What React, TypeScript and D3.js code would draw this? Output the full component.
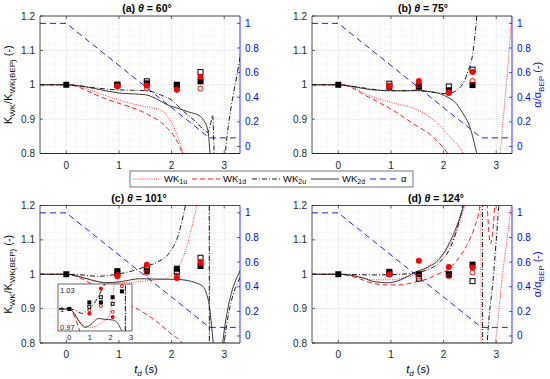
import React from "react";
import * as d3 from "d3";

type Pt = [number, number] | null;

// shared values
const markerT = [0.97, 1.53, 2.1, 2.55];
const alphaT = [-0.5, 0, 2.72, 3.3];
const alphaV = [1, 1, 0.07, 0.07];

const xTicks = [0, 1, 2, 3];
const yTicks = [0.8, 0.9, 1, 1.1, 1.2];
const yTickLabels = ["0.8", "0.9", "1", "1.1", "1.2"];
const rTicks = [0, 0.2, 0.4, 0.6, 0.8, 1];
const rTickLabels = ["0", "0.2", "0.4", "0.6", "0.8", "1"];
const insetXTicks = [0, 1, 2, 3];
const insetYTicks = [0.97, 1, 1.03];
const insetYTickLabels = ["0.97", "1", "1.03"];

// (a) theta = 60
const wk1uA: Pt[] = [[-0.5, 1], [0, 1], [0.2, 0.997], [0.5, 0.982], [0.8, 0.966], [1.0, 0.956], [1.27, 0.944], [1.55, 0.935], [1.8, 0.925], [1.95, 0.903], [2.05, 0.875], [2.15, 0.835], [2.25, 0.78]];
const wk1dA: Pt[] = [[-0.5, 1], [0, 1], [0.2, 0.995], [0.5, 0.975], [0.82, 0.955], [1.1, 0.941], [1.52, 0.916], [1.9, 0.877], [2.05, 0.85], [2.18, 0.81], [2.24, 0.78]];
const wk2uA: Pt[] = [[-0.5, 1], [0, 1], [0.25, 0.997], [0.6, 0.99], [1.0, 0.985], [1.3, 0.984], [1.55, 0.982], [1.8, 0.97], [2.0, 0.955], [2.21, 0.925], [2.47, 0.891], [2.62, 0.868], [2.69, 0.862], [2.74, 0.885], [2.78, 0.911], [2.81, 0.8], [2.83, 0.72], null, [2.99, 0.75], [3.02, 0.8], [3.29, 1.071], [3.32, 1.1]];
const wk2dA: Pt[] = [[-0.5, 1], [0, 1], [0.25, 0.997], [0.6, 0.987], [1.0, 0.976], [1.3, 0.973], [1.5, 0.971], [1.7, 0.96], [1.9, 0.943], [2.15, 0.93], [2.34, 0.92], [2.5, 0.912], [2.59, 0.901], [2.69, 0.867], [2.73, 0.8], [2.75, 0.75]];
const sqFilledA = [1.0, 1.004, 0.999, 1.01];
const sqOpenA = [1.0, 1.01, 1.0, 1.037];
const cFilledA = [0.996, 0.998, 0.986, 1.023];
const cOpenA = [0.995, 0.99, 0.985, 0.989];

// (b) theta = 75
const wk1uB: Pt[] = [[-0.5, 1], [0, 1], [0.2, 0.997], [0.5, 0.975], [0.79, 0.958], [1.1, 0.945], [1.42, 0.932], [1.65, 0.915], [1.87, 0.89], [2.12, 0.848], [2.37, 0.8], [2.4, 0.79], null, [3.05, 0.79], [3.07, 0.8], [3.15, 0.93], [3.23, 1.07], [3.3, 1.21]];
const wk1dB: Pt[] = [[-0.5, 1], [0, 1], [0.2, 0.995], [0.5, 0.97], [0.79, 0.947], [1.1, 0.92], [1.42, 0.887], [1.8, 0.848], [2.06, 0.804], [2.1, 0.795]];
const wk2uB: Pt[] = [[-0.5, 1], [0, 1], [0.3, 0.995], [0.6, 0.988], [0.9, 0.983], [1.2, 0.983], [1.5, 0.984], [1.8, 0.978], [2.06, 0.974], [2.25, 0.984], [2.4, 1.013], [2.47, 1.042], [2.53, 1.07], [2.58, 1.12], [2.63, 1.2], [2.65, 1.25]];
const wk2dB: Pt[] = [[-0.5, 1], [0, 1], [0.3, 0.994], [0.6, 0.986], [0.9, 0.983], [1.2, 0.982], [1.5, 0.983], [1.75, 0.98], [1.93, 0.974], [2.1, 0.962], [2.2, 0.952], [2.37, 0.916], [2.5, 0.877], [2.63, 0.8], [2.66, 0.78]];
const sqFilledB = [0.994, 0.994, 0.984, 0.999];
const sqOpenB = [1.003, 0.998, 0.995, 1.044];
const cFilledB = [0.996, 1.011, 0.976, 1.037];
const cOpenB = [0.998, 0.998, 0.979, 1.011];

// (c) theta = 101
const wk1uC: Pt[] = [[-0.5, 1], [0, 1], [0.2, 0.996], [0.45, 0.985], [0.7, 0.977], [1.0, 0.975], [1.3, 0.977], [1.58, 0.982], [1.9, 0.988], [2.0, 0.998], [2.1, 1.015], [2.21, 1.045], [2.37, 1.128], [2.47, 1.196], [2.6, 1.35], [2.715, 1.8], [2.725, 0.2]];
const wk1dC: Pt[] = [[-0.5, 1], [0, 1], [0.12, 0.997], [0.36, 0.982], [0.63, 0.958], [1.0, 0.928], [1.3, 0.904], [1.71, 0.863], [2.02, 0.823], [2.2, 0.8], [2.26, 0.78]];
const wk2uC: Pt[] = [[-0.5, 1], [0, 1], [0.3, 0.998], [0.6, 0.994], [0.92, 0.999], [1.26, 1.01], [1.5, 1.022], [1.71, 1.034], [1.96, 1.063], [2.12, 1.11], [2.25, 1.19], [2.4, 1.3], [2.6, 1.5], [2.71, 1.8], [2.72, 0.2], null, [2.98, 0.75], [3.0, 0.8], [3.3, 0.99]];
const wk2dC: Pt[] = [[-0.5, 1], [0, 1], [0.2, 0.995], [0.5, 0.982], [0.76, 0.975], [1.05, 0.979], [1.4, 0.987], [1.7, 0.986], [2.1, 0.985], [2.3, 0.982], [2.46, 0.975], [2.59, 0.965], [2.66, 0.945], [2.72, 0.905], [2.76, 0.85], [2.79, 0.8], [2.81, 0.75], null, [2.95, 0.75], [2.97, 0.8], [3.3, 1.01]];
const sqFilledC = [1.009, 1.009, 1.016, 1.024];
const sqOpenC = [1.003, 1.016, 1.007, 1.048];
const cFilledC = [0.994, 1.028, 0.989, 1.036];
const cOpenC = [0.998, 1.004, 0.996, 1.031];

// (d) theta = 124
const wk1uD: Pt[] = [[-0.5, 1], [0, 1], [0.2, 0.998], [0.4, 0.992], [0.7, 0.984], [1.0, 0.984], [1.25, 0.99], [1.46, 0.999], [1.77, 1.031], [2.09, 1.079], [2.34, 1.167], [2.4, 1.2], [2.55, 1.4], [2.705, 2], [2.715, 0.0], null, [2.95, 0.78], [2.98, 0.8], [3.12, 1.0], [3.27, 1.18], [3.3, 1.22]];
const wk1dD: Pt[] = [[-0.5, 1], [0, 1], [0.2, 0.996], [0.4, 0.987], [0.65, 0.974], [0.9, 0.969], [1.17, 0.969], [1.4, 0.975], [1.7, 0.987], [1.93, 1.003], [2.1, 1.015], [2.25, 1.04], [2.44, 1.084], [2.59, 1.138], [2.69, 1.2], [2.72, 1.3], null, [2.8, 1.3], [2.83, 1.2], [2.89, 1.089], [2.97, 1.2], [3.0, 1.3]];
const wk2uD: Pt[] = [[-0.5, 1], [0, 1], [0.3, 0.999], [0.7, 0.998], [1.0, 0.999], [1.3, 1.001], [1.5, 1.005], [1.68, 1.012], [1.93, 1.036], [2.12, 1.075], [2.28, 1.145], [2.36, 1.2], [2.5, 1.4], [2.735, 2], [2.745, 0.5], [2.83, 0.8], [2.95, 1.0], [3.05, 1.2], [3.1, 1.3]];
const wk2dD: Pt[] = [[-0.5, 1], [0, 1], [0.2, 0.998], [0.45, 0.99], [0.7, 0.978], [0.95, 0.975], [1.17, 0.983], [1.33, 0.995], [1.46, 1.006], [1.68, 1.019], [1.93, 1.046], [2.12, 1.094], [2.28, 1.152], [2.38, 1.2], [2.45, 1.25]];
const sqFilledD = [1.007, 1.0, 1.0, 1.028];
const sqOpenD = [1.002, 0.9875, 0.999, 0.98];
const cFilledD = [1.0, 1.039, 1.021, 1.02];
const cOpenD = [0.999, 0.993, 0.994, 1.005];

const FONT = "'Liberation Sans', Arial, Helvetica, sans-serif";
const AX = "#262626";
const BLUE = "#0000ff";

const styles = {
  wk1u: { stroke: "#ff2020", strokeWidth: 0.9, strokeDasharray: "1 1.3" },
  wk1d: { stroke: "#ff0000", strokeWidth: 0.9, strokeDasharray: "5 3" },
  wk2u: { stroke: "#000", strokeWidth: 0.9, strokeDasharray: "5 2 1 2" },
  wk2d: { stroke: "#222", strokeWidth: 0.9 },
  alpha: { stroke: BLUE, strokeWidth: 0.9, strokeDasharray: "6 4" },
};

const Markers = ({ x, y, sqFilled, sqOpen, cFilled, cOpen, s }) => (
  <g>
    <rect x={x(0) - s / 2} y={y(1) - s / 2} width={s} height={s} fill="#000" />
    {markerT.map((t, i) => (
      <g key={i}>
        <rect x={x(t) - s / 2} y={y(sqFilled[i]) - s / 2} width={s} height={s} fill="#000" />
        <rect x={x(t) - s / 2 + 0.5} y={y(sqOpen[i]) - s / 2 + 0.5} width={s - 1} height={s - 1} fill="none" stroke="#000" strokeWidth={1} />
        <circle cx={x(t)} cy={y(cFilled[i])} r={s / 2} fill="#ff0000" />
        <circle cx={x(t)} cy={y(cOpen[i])} r={s / 2 - 0.5} fill="none" stroke="#ff0000" strokeWidth={1} />
      </g>
    ))}
  </g>
);

const Inset = ({ curves, marks }) => {
  const l = 58, r = 132, t = 284, b = 331;
  const x = d3.scaleLinear().domain([-0.55, 3.04]).range([l, r]);
  const y = d3.scaleLinear().domain([0.97, 1.034]).range([b, t]);
  const line = d3.line<Pt>().defined((d) => d !== null).x((d) => x(d![0])).y((d) => y(d![1])).curve(d3.curveMonotoneX);
  return (
    <g>
      <clipPath id="clip-inset">
        <rect x={l} y={t} width={r - l} height={b - t} />
      </clipPath>
      <rect x={l} y={t} width={r - l} height={b - t} fill="#fff" stroke={AX} strokeWidth={0.7} />
      <g clipPath="url(#clip-inset)">
        {curves.map((c, i) => (
          <path key={i} d={line(c.data) || ""} fill="none" {...c.style} />
        ))}
        <Markers x={x} y={y} s={4} {...marks} />
      </g>
      {insetYTicks.map((v, i) => (
        <text key={v} x={l + 2} y={y(v) + (i === 0 ? -1 : i === 2 ? 6 : 3)} fontSize={7.5} fill={AX}>
          {insetYTickLabels[i]}
        </text>
      ))}
      {insetXTicks.map((v) => (
        <text key={v} x={x(v)} y={b + 9} fontSize={7.5} fill={AX} textAnchor="middle">
          {v}
        </text>
      ))}
    </g>
  );
};

const Panel = ({ id, left, top, title, titleX, curves, marks, leftLabel, rightLabel, xLabel, children }) => {
  const width = 200, height = 137.5;
  const bottom = top + height, right = left + width;
  const x = d3.scaleLinear().domain([-0.5, 3.3]).range([left, right]);
  const y = d3.scaleLinear().domain([0.8, 1.2]).range([bottom, top]);
  const yr = d3.scaleLinear().domain([-0.057, 1.06]).range([bottom, top]);
  const line = d3.line<Pt>().defined((d) => d !== null).x((d) => x(d![0])).y((d) => y(d![1])).curve(d3.curveMonotoneX);
  const aLine = d3.line<number>().x((d, i) => x(alphaT[i])).y((d) => yr(d));
  const xMinor = d3.range(-2, 17).map((i) => i * 0.2).filter((v) => Math.abs(v - Math.round(v)) > 0.01);
  const yMinor = d3.range(40, 61).map((i) => i * 0.02).filter((v) => Math.abs(v * 10 - Math.round(v * 10)) > 0.01);
  const cx = (left + right) / 2;
  const cy = (top + bottom) / 2;
  return (
    <g>
      <clipPath id={`clip-${id}`}>
        <rect x={left} y={top} width={width} height={height} />
      </clipPath>
      {/* grid */}
      {xMinor.map((v) => (
        <line key={`xm${v}`} x1={x(v)} x2={x(v)} y1={top} y2={bottom} stroke="#e2e2e2" strokeWidth={0.6} strokeDasharray="1 1.5" />
      ))}
      {yMinor.map((v) => (
        <line key={`ym${v}`} x1={left} x2={right} y1={y(v)} y2={y(v)} stroke="#e2e2e2" strokeWidth={0.6} strokeDasharray="1 1.5" />
      ))}
      {xTicks.map((v) => (
        <line key={`xg${v}`} x1={x(v)} x2={x(v)} y1={top} y2={bottom} stroke="#cfcfcf" strokeWidth={0.7} strokeDasharray="1 1" />
      ))}
      {yTicks.map((v) => (
        <line key={`yg${v}`} x1={left} x2={right} y1={y(v)} y2={y(v)} stroke="#cfcfcf" strokeWidth={0.7} strokeDasharray="1 1" />
      ))}
      {/* data */}
      <g clipPath={`url(#clip-${id})`}>
        <path d={aLine(alphaV) || ""} fill="none" {...styles.alpha} />
        {curves.map((c, i) => (
          <path key={i} d={line(c.data) || ""} fill="none" {...c.style} />
        ))}
        <Markers x={x} y={y} s={6} {...marks} />
      </g>
      {children}
      {/* axes */}
      <line x1={left} x2={right} y1={top} y2={top} stroke={AX} strokeWidth={0.8} />
      <line x1={left} x2={right} y1={bottom} y2={bottom} stroke={AX} strokeWidth={1} />
      <line x1={left} x2={left} y1={top} y2={bottom} stroke={AX} strokeWidth={0.8} />
      <line x1={right} x2={right} y1={top} y2={bottom} stroke={BLUE} strokeWidth={0.8} />
      {xTicks.map((v) => (
        <g key={`xt${v}`}>
          <line x1={x(v)} x2={x(v)} y1={bottom} y2={bottom - 3} stroke={AX} strokeWidth={0.7} />
          <line x1={x(v)} x2={x(v)} y1={top} y2={top + 3} stroke={AX} strokeWidth={0.7} />
          <text x={x(v)} y={bottom + 15} fontSize={10} fill={AX} textAnchor="middle">
            {v}
          </text>
        </g>
      ))}
      {yTicks.map((v, i) => (
        <g key={`yt${v}`}>
          <line x1={left} x2={left + 3} y1={y(v)} y2={y(v)} stroke={AX} strokeWidth={0.7} />
          <text x={left - 5} y={y(v) + 3.5} fontSize={10} fill={AX} textAnchor="end">
            {yTickLabels[i]}
          </text>
        </g>
      ))}
      {rTicks.map((v, i) => (
        <g key={`rt${v}`}>
          <line x1={right} x2={right - 3} y1={yr(v)} y2={yr(v)} stroke={BLUE} strokeWidth={0.7} />
          <text x={right + 5} y={yr(v) + 3.5} fontSize={10} fill={BLUE}>
            {rTickLabels[i]}
          </text>
        </g>
      ))}
      <text x={titleX} y={top - 4} fontSize={10.5} fontWeight="bold" textAnchor="middle" fill="#000">
        {title[0]}
        <tspan fontStyle="italic">θ</tspan>
        {title[1]}
      </text>
      {leftLabel && (
        <text transform={`translate(12, ${cy}) rotate(-90)`} fontSize={11} textAnchor="middle" fill="#000">
          K<tspan dy={3} fontSize={8}>WK</tspan>
          <tspan dy={-3}>/K</tspan>
          <tspan dy={3} fontSize={8}>WK(BEP)</tspan>
          <tspan dy={-3}> (-)</tspan>
        </text>
      )}
      {rightLabel && (
        <text transform={`translate(541, ${cy}) rotate(-90)`} fontSize={11} textAnchor="middle" fill={BLUE}>
          α/α<tspan dy={3} fontSize={8}>BEP</tspan>
          <tspan dy={-3}> (-)</tspan>
        </text>
      )}
      {xLabel && (
        <text x={cx + 6} y={bottom + 30} fontSize={11} textAnchor="middle" fill="#000">
          <tspan fontStyle="italic">t</tspan>
          <tspan dy={3} fontSize={8} fontStyle="italic">d</tspan>
          <tspan dy={-3}> (s)</tspan>
        </text>
      )}
    </g>
  );
};

const legendItems = [
  { key: "wk1u", sub: "1u", x: 133 },
  { key: "wk1d", sub: "1d", x: 192 },
  { key: "wk2u", sub: "2u", x: 252 },
  { key: "wk2d", sub: "2d", x: 311 },
  { key: "alpha", sub: "", x: 370 },
];

const Legend = () => (
  <g>
    <rect x={130} y={171} width={283} height={16} fill="#fff" stroke="#555" strokeWidth={0.8} />
    {legendItems.map((it) => (
      <g key={it.key}>
        <line x1={it.x} x2={it.x + 28} y1={179} y2={179} {...styles[it.key]} />
        <text x={it.x + 31} y={181.5} fontSize={9.5} fill="#000">
          {it.sub ? (
            <>
              WK<tspan dy={2.5} fontSize={7}>{it.sub}</tspan>
            </>
          ) : (
            "α"
          )}
        </text>
      </g>
    ))}
  </g>
);

const mk = (a, b, c, d) => [
  { data: a, style: styles.wk1u },
  { data: b, style: styles.wk1d },
  { data: c, style: styles.wk2u },
  { data: d, style: styles.wk2d },
];

export default function App() {
  const curvesC = mk(wk1uC, wk1dC, wk2uC, wk2dC);
  const marksC = { sqFilled: sqFilledC, sqOpen: sqOpenC, cFilled: cFilledC, cOpen: cOpenC };
  return (
    <svg width={550} height={379} style={{ position: "absolute", left: 0, top: 0, background: "#fff" }} fontFamily={FONT}>
      <rect width={550} height={379} fill="#fff" />
      <Panel id="a" left={40} top={16} title={["(a) ", " = 60°"]} titleX={147}
        curves={mk(wk1uA, wk1dA, wk2uA, wk2dA)}
        marks={{ sqFilled: sqFilledA, sqOpen: sqOpenA, cFilled: cFilledA, cOpen: cOpenA }}
        leftLabel rightLabel={false} xLabel={false} />
      <Panel id="b" left={312} top={16} title={["(b) ", " = 75°"]} titleX={423}
        curves={mk(wk1uB, wk1dB, wk2uB, wk2dB)}
        marks={{ sqFilled: sqFilledB, sqOpen: sqOpenB, cFilled: cFilledB, cOpen: cOpenB }}
        leftLabel={false} rightLabel xLabel={false} />
      <Panel id="c" left={40} top={205.5} title={["(c) ", " = 101°"]} titleX={139}
        curves={curvesC} marks={marksC} leftLabel rightLabel={false} xLabel>
        <Inset curves={curvesC} marks={marksC} />
      </Panel>
      <Panel id="d" left={312} top={205.5} title={["(d) ", " = 124°"]} titleX={436}
        curves={mk(wk1uD, wk1dD, wk2uD, wk2dD)}
        marks={{ sqFilled: sqFilledD, sqOpen: sqOpenD, cFilled: cFilledD, cOpen: cOpenD }}
        leftLabel={false} rightLabel xLabel />
      <Legend />
    </svg>
  );
}
